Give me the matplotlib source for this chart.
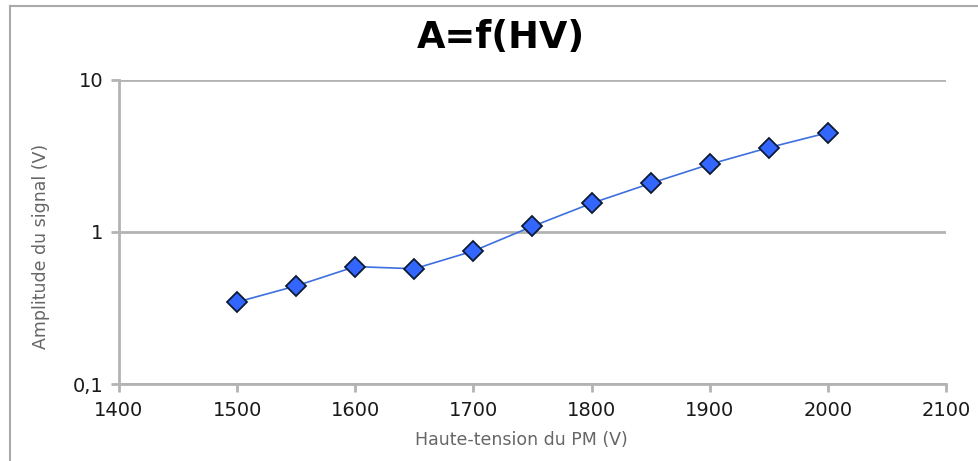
import numpy as np
import matplotlib.pyplot as plt
from matplotlib.lines import Line2D
from matplotlib.ticker import FixedLocator, NullLocator

hv = [1500, 1550, 1600, 1650, 1700, 1750, 1800, 1850, 1900, 1950, 2000]
amp = [0.346, 0.442, 0.592, 0.573, 0.75, 1.09, 1.545, 2.09, 2.79, 3.59, 4.50]

x_ticks = [1400, 1500, 1600, 1700, 1800, 1900, 2000, 2100]
y_ticks = [0.1, 1, 10]
y_labels = ["0,1", "1", "10"]

GRID = "#b3b3b3"

fig = plt.figure(figsize=(9.79, 4.61), dpi=100)
ax = fig.add_axes([119/979, 1-384/461, (946-119)/979, (384-80)/461])

ax.plot(hv, amp, color="#3d6fe0", lw=1.2, marker="D", ms=10,
        mfc="#3366ff", mec="#0d1a33", mew=1.3, zorder=3, clip_on=False)

ax.set_yscale("log")
ax.set_xlim(1400, 2100)
ax.set_ylim(0.1, 10)
ax.xaxis.set_major_locator(FixedLocator(x_ticks))
ax.yaxis.set_major_locator(FixedLocator(y_ticks))
ax.yaxis.set_minor_locator(NullLocator())
ax.set_yticklabels(y_labels)
ax.set_xticklabels([str(t) for t in x_ticks])

ax.grid(axis="y", color=GRID, lw=2)
ax.set_axisbelow(True)
for s in ["top", "right"]:
    ax.spines[s].set_visible(False)
for s in ["left", "bottom"]:
    ax.spines[s].set_color(GRID)
    ax.spines[s].set_linewidth(2)
ax.tick_params(axis="both", colors=GRID, width=2, length=6, labelsize=14,
               labelcolor="#1a1a1a")
ax.tick_params(axis="x", pad=6)
ax.tick_params(axis="y", pad=5)

ax.set_xlabel("Haute-tension du PM (V)", fontsize=12.5, color="#666666")
ax.xaxis.set_label_coords((521-119)/827, -(431-384)/304)
ax.set_ylabel("Amplitude du signal (V)", fontsize=12.5, color="#666666")
ax.yaxis.set_label_coords(-(119-50)/827, (384-246)/304)

fig.text(501/979, 1-37/461, "A=f(HV)", ha="center", va="center",
         fontsize=26.5, fontweight="bold")

# outer frame
fig.add_artist(Line2D([10/979, 1], [1-6/461, 1-6/461], color="#aaaaaa", lw=1.5))
fig.add_artist(Line2D([10/979, 10/979], [0, 1-6/461], color="#aaaaaa", lw=1.5))

fig.savefig("out.png", dpi=100)
